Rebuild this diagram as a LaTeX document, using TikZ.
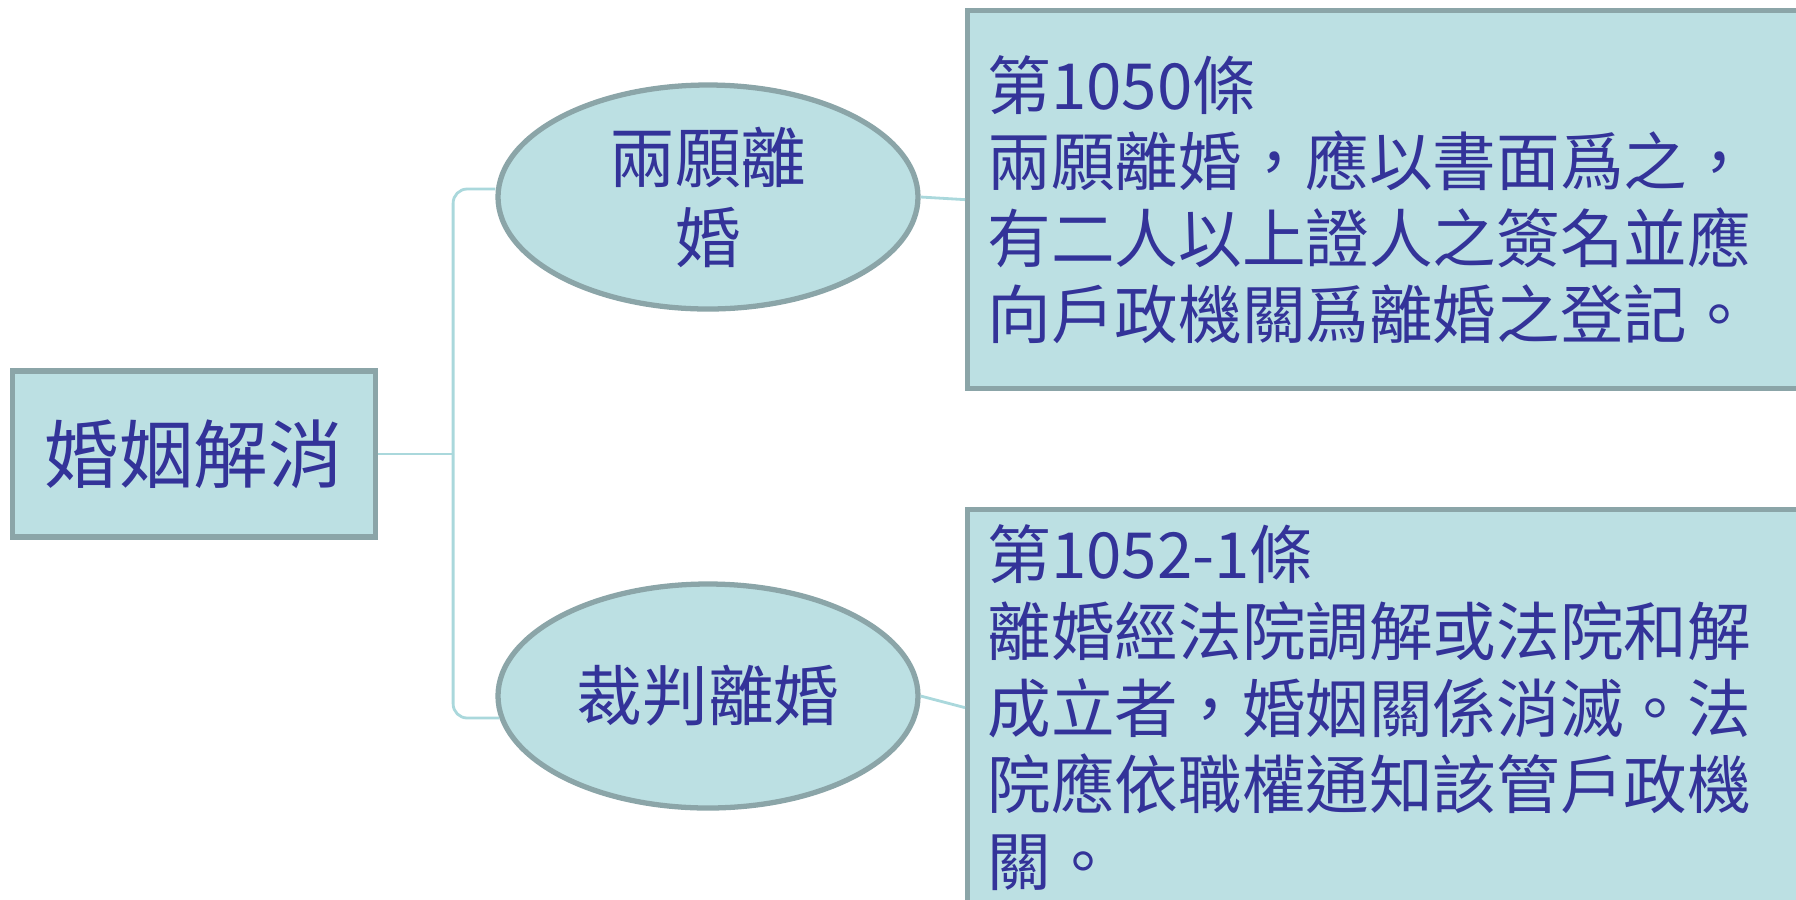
\documentclass[tikz,border=0pt]{standalone}
\usepackage{fontspec}
\setmainfont{Noto Sans CJK TC}
\usetikzlibrary{shapes.geometric}
\definecolor{boxfill}{RGB}{188,224,227}
\definecolor{boxline}{RGB}{139,165,168}
\definecolor{linkline}{RGB}{170,216,220}
\definecolor{inkblue}{RGB}{51,51,153}

\begin{document}
\begin{tikzpicture}[x=0.1mm,y=-0.1mm,
  box/.style={draw=boxline,fill=boxfill,line width=1.5pt,text=inkblue},
  oval/.style={box,ellipse,minimum width=42mm,minimum height=22.4mm,inner sep=0pt,align=center,font=\fontsize{18.7}{22.8}\selectfont},
  law/.style={box,anchor=north west,align=left,text width=80mm,inner xsep=2mm,font=\fontsize{18.1}{21.8}\selectfont},
  link/.style={draw=linkline,line width=.8pt,rounded corners=4pt}]
\useasboundingbox (0,0) rectangle (1796,899);
\clip (0,0) rectangle (1796,899);
% root and the two kinds
\node[box,minimum width=36.3mm,minimum height=16.6mm,font=\fontsize{21.2}{25}\selectfont] (root) at (194,454) {婚姻解消};
\node[oval] (mutual) at (708,197) {兩願離\\婚};
\node[oval] (judicial) at (708,696) {裁判離婚};
% the articles
\node[law,minimum height=37.8mm] (art1050) at (965,8) {第1050條\\兩願離婚，應以書面爲之，\\有二人以上證人之簽名並應\\向戶政機關爲離婚之登記。};
\node[law,minimum height=39.6mm] (art1052) at (965,507) {第1052-1條\\離婚經法院調解或法院和解\\成立者，婚姻關係消滅。法\\院應依職權通知該管戶政機\\關。};
% connectors
\coordinate (spine) at ([xshift=7.5mm]root.east);
\draw[link] (root.east) -- (spine);
\draw[link] (spine) |- ([yshift=.8mm]mutual.west);
\draw[link] (spine) |- ([xshift=.4mm,yshift=-2.2mm]judicial.west);
\draw[link] (mutual.east) -- (art1050.west);
\draw[link] (judicial.east) -- (art1052.west);
\end{tikzpicture}
\end{document}
